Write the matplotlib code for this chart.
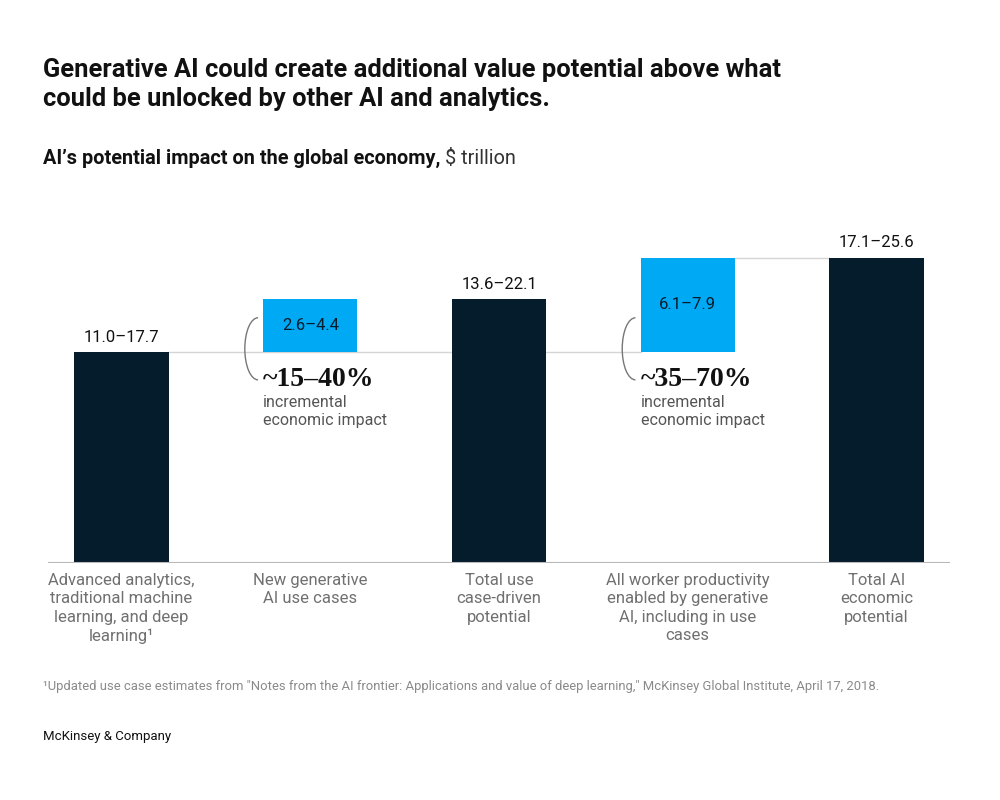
import matplotlib.pyplot as plt
from matplotlib.patches import Arc

categories = [
    "Advanced analytics,\ntraditional machine\nlearning, and deep\nlearning\u00b9",
    "New generative\nAI use cases",
    "Total use\ncase-driven\npotential",
    "All worker productivity\nenabled by generative\nAI, including in use\ncases",
    "Total AI\neconomic\npotential",
]
low = [11.0, 2.6, 13.6, 6.1, 17.1]
high = [17.7, 4.4, 22.1, 7.9, 25.6]
# increments sit on top of the first bar
base_of = [None, 0, None, 0, None]
shares = [None, "~15\u201340%", None, "~35\u201370%", None]

NAVY = "#051C2C"
BLUE = "#00A9F4"
GREY = "#707070"
SANS = ["Roboto", "DejaVu Sans"]

plt.rcParams["font.family"] = SANS

fig = plt.figure(figsize=(10, 8), dpi=100)
ax = fig.add_axes([0.048, 0.29625, 0.902, 0.4475])
ax.set_xlim(-0.39, 4.39)
ax.set_ylim(0, 30)
ax.axis("off")

w = 0.5
for i, (lo, hi) in enumerate(zip(low, high)):
    label = f"{lo:.1f}\u2013{hi:.1f}"
    if base_of[i] is None:
        ax.bar(i, hi, width=w, color=NAVY, zorder=3)
        ax.text(i, hi + 0.6, label, ha="center", va="bottom", fontsize=12, color="#111111")
    else:
        b = high[base_of[i]]
        ax.bar(i, hi, bottom=b, width=w, color=BLUE, zorder=3)
        ax.text(i, b + hi / 2, label, ha="center", va="center", fontsize=12, color=NAVY, zorder=4)
        left = i - w / 2
        arc = Arc((left - 0.027, b + 0.25), 0.14, 5.2, theta1=90, theta2=270,
                  color="#777777", lw=1, zorder=4)
        ax.add_patch(arc)
        ax.text(left, b - 2.3, shares[i], ha="left", va="center", fontsize=20,
                fontweight="bold", family=["Liberation Serif", "DejaVu Serif"], color="#111111")
        ax.text(left, b - 3.6, "incremental\neconomic impact", ha="left", va="top",
                fontsize=11.5, color="#555555", linespacing=1.3)

# connector lines
ax.plot([0 + w / 2, 3 - w / 2], [high[0], high[0]], color="#D5D5D5", lw=1, zorder=2)
ax.plot([3 + w / 2, 4 - w / 2], [high[4], high[4]], color="#D5D5D5", lw=1, zorder=2)
# baseline
ax.axhline(0, color="#B8B8B8", lw=1.5, zorder=4)

for i, c in enumerate(categories):
    ax.text(i, -0.8, c, ha="center", va="top", fontsize=12, color=GREY,
            linespacing=1.3)

fig.text(0.043, 0.894, "Generative AI could create additional value potential above what\n"
         "could be unlocked by other AI and analytics.", ha="left", va="center",
         fontsize=18.4, fontweight="bold", color="#111111", linespacing=1.25)

t = fig.text(0.043, 0.802, "AI\u2019s potential impact on the global economy,", ha="left", va="center",
             fontsize=14.3, fontweight="bold", color="#111111")
fig.canvas.draw()
bb = t.get_window_extent()
fig.text(bb.x1 / 1000 + 0.005, 0.802, "$ trillion", ha="left", va="center",
         fontsize=14.3, color="#333333")

fig.text(0.043, 0.142, "\u00b9Updated use case estimates from \"Notes from the AI frontier: Applications and "
         "value of deep learning,\" McKinsey Global Institute, April 17, 2018.",
         ha="left", va="center", fontsize=9.4, color="#8A8A8A")
fig.text(0.043, 0.079, "McKinsey & Company", ha="left", va="center", fontsize=9.5, color="#111111")

fig.savefig("out.png", dpi=100, facecolor="white")
